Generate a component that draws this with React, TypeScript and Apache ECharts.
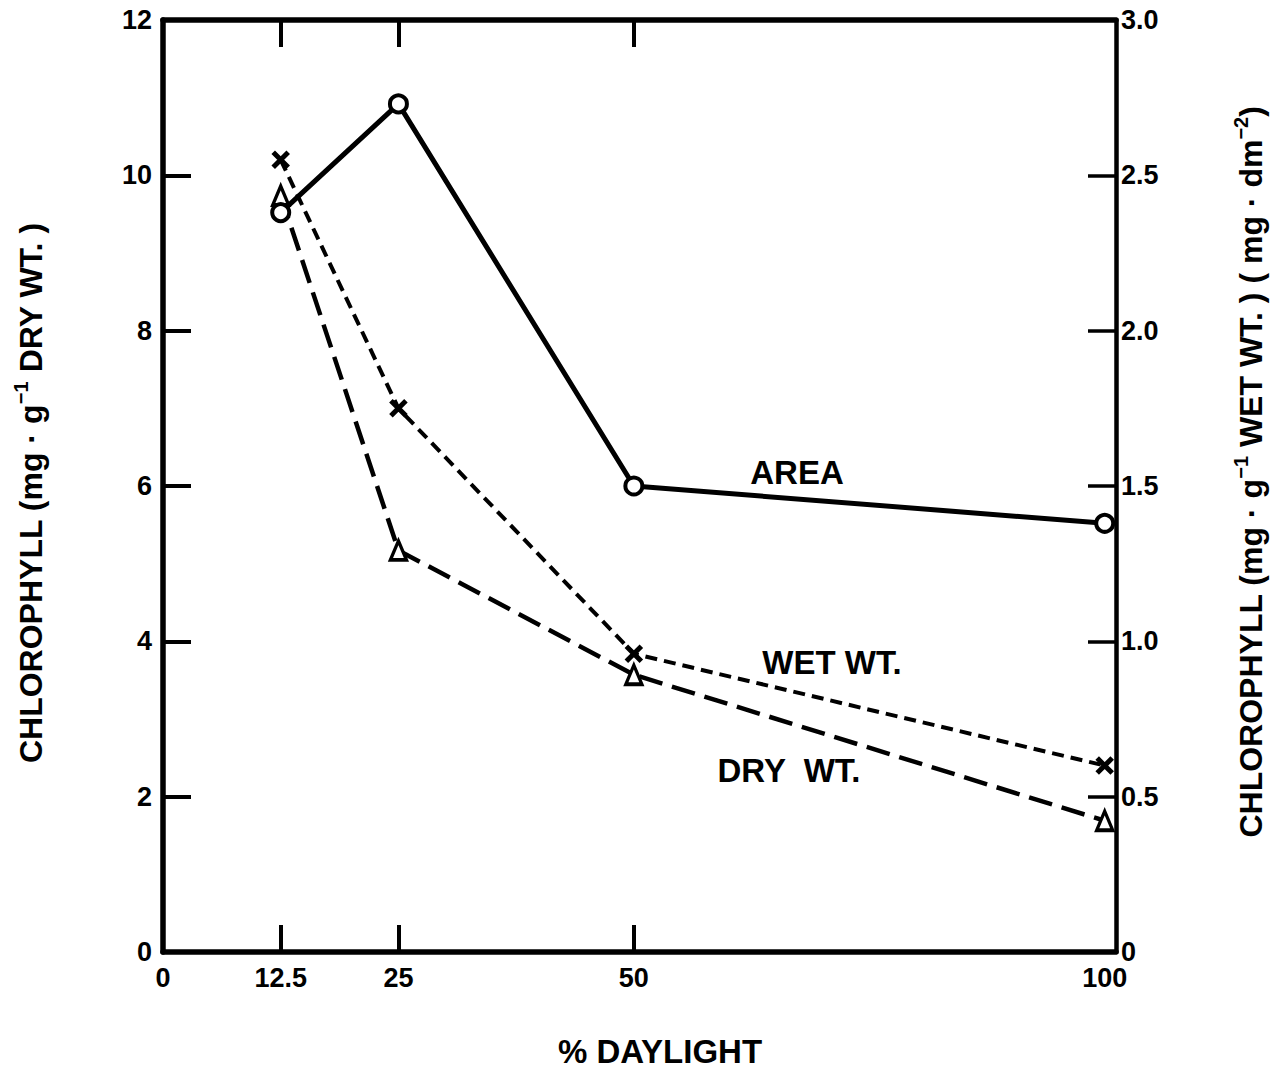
import React, { useEffect, useRef } from "react";
import * as echarts from "echarts";

// % daylight treatments
const daylight = [12.5, 25, 50, 100];
// chlorophyll, mg per g dry weight (left axis)
const dryWt = [9.74, 5.17, 3.57, 1.69];
// chlorophyll, mg per g wet weight (right axis)
const wetWt = [2.55, 1.75, 0.96, 0.6];
// chlorophyll, mg per dm² leaf area (right axis)
const area = [2.38, 2.73, 1.5, 1.38];

const xTickLabels = [0, 12.5, 25, 50, 100];
const xInnerTicks = [12.5, 25, 50];
const leftInnerTicks = [2, 4, 6, 8, 10];
const rightInnerTicks = [0.5, 1, 1.5, 2, 2.5];

const FONT = '"Liberation Sans", Arial, "DejaVu Sans", sans-serif';
const INK = "#000";

const pairs = (xs: number[], ys: number[]) => xs.map((x, i) => [x, ys[i]]);

const titleRich = {
  a: { fontSize: 32, fontWeight: "bold", fontFamily: FONT, fill: INK, color: INK, lineHeight: 40 },
  s: { fontSize: 20, fontWeight: "bold", fontFamily: FONT, fill: INK, color: INK, lineHeight: 16, verticalAlign: "top" },
};

const textEl = (text: string, x: number, y: number, size: number) => ({
  type: "text",
  x,
  y,
  style: {
    text,
    fontSize: size,
    fontWeight: "bold",
    fontFamily: FONT,
    fill: INK,
    align: "center",
    verticalAlign: "middle",
    textAlign: "center",
    textVerticalAlign: "middle",
  },
});

export default function App() {
  const ref = useRef<HTMLDivElement>(null);

  useEffect(() => {
    if (!ref.current) return;
    const chart = echarts.init(ref.current, undefined, { renderer: "svg" });

    const axisLabelStyle = { color: INK, fontSize: 27, fontWeight: "bold", fontFamily: FONT };

    const xBase = {
      type: "value",
      min: 0,
      max: 101.2,
      splitLine: { show: false },
      axisLine: { show: true, onZero: false, lineStyle: { color: INK, width: 5.5 } },
      axisTick: { show: true, inside: true, length: 27, customValues: xInnerTicks, lineStyle: { color: INK, width: 4 } },
    };

    chart.setOption({
      animation: false,
      backgroundColor: "#fff",
      grid: { left: 163, right: 167, top: 20, bottom: 120, containLabel: false },
      xAxis: [
        {
          ...xBase,
          position: "bottom",
          axisLabel: {
            ...axisLabelStyle,
            margin: 12,
            customValues: xTickLabels,
            formatter: (v: number) => String(v),
          },
        },
        {
          ...xBase,
          position: "top",
          axisLabel: { show: false },
        },
      ],
      yAxis: [
        {
          type: "value",
          position: "left",
          min: 0,
          max: 12,
          interval: 2,
          splitLine: { show: false },
          axisLine: { show: true, onZero: false, lineStyle: { color: INK, width: 5.5 } },
          axisTick: { show: true, inside: true, length: 28, customValues: leftInnerTicks, lineStyle: { color: INK, width: 4 } },
          axisLabel: { ...axisLabelStyle, margin: 11 },
        },
        {
          type: "value",
          position: "right",
          min: 0,
          max: 3,
          interval: 0.5,
          splitLine: { show: false },
          axisLine: { show: true, onZero: false, lineStyle: { color: INK, width: 4.5 } },
          axisTick: { show: true, inside: true, length: 28, customValues: rightInnerTicks, lineStyle: { color: INK, width: 3.5 } },
          axisLabel: {
            ...axisLabelStyle,
            margin: 5,
            formatter: (v: number) => (v === 0 ? "0" : v.toFixed(1)),
          },
        },
      ],
      series: [
        {
          name: "DRY WT.",
          type: "line",
          xAxisIndex: 0,
          yAxisIndex: 0,
          data: pairs(daylight, dryWt),
          lineStyle: { color: INK, width: 4.5, type: [24, 10] },
          symbol: "triangle",
          symbolSize: [16, 19],
          itemStyle: { color: "#fff", borderColor: INK, borderWidth: 3.5 },
          z: 2,
        },
        {
          name: "WET WT.",
          type: "line",
          xAxisIndex: 0,
          yAxisIndex: 1,
          data: pairs(daylight, wetWt),
          lineStyle: { color: INK, width: 4, type: [12, 7] },
          symbol: "path://M0,0L12,12M12,0L0,12",
          symbolSize: 15,
          itemStyle: { color: INK, borderColor: INK, borderWidth: 5 },
          z: 3,
        },
        {
          name: "AREA",
          type: "line",
          xAxisIndex: 0,
          yAxisIndex: 1,
          data: pairs(daylight, area),
          lineStyle: { color: INK, width: 5, type: "solid" },
          symbol: "circle",
          symbolSize: 17,
          itemStyle: { color: "#fff", borderColor: INK, borderWidth: 4 },
          z: 4,
        },
      ],
      graphic: [
        textEl("AREA", 797, 472, 33),
        textEl("WET WT.", 832, 662, 33),
        textEl("DRY  WT.", 789, 770, 33),
        textEl("% DAYLIGHT", 660, 1051, 33),
        {
          type: "text",
          x: 31,
          y: 493,
          rotation: Math.PI / 2,
          style: {
            text: "{a|CHLOROPHYLL (mg · g}{s|−1}{a| DRY WT. )}",
            rich: titleRich,
            align: "center",
            verticalAlign: "middle",
            textAlign: "center",
            textVerticalAlign: "middle",
          },
        },
        {
          type: "text",
          x: 1251,
          y: 472,
          rotation: Math.PI / 2,
          style: {
            text: "{a|CHLOROPHYLL (mg · g}{s|−1}{a| WET WT. ) ( mg · dm}{s|−2}{a|)}",
            rich: titleRich,
            align: "center",
            verticalAlign: "middle",
            textAlign: "center",
            textVerticalAlign: "middle",
          },
        },
      ],
    });

    return () => chart.dispose();
  }, []);

  return (
    <div
      ref={ref}
      style={{ position: "absolute", left: 0, top: 0, width: 1283, height: 1072, background: "#fff" }}
    />
  );
}
